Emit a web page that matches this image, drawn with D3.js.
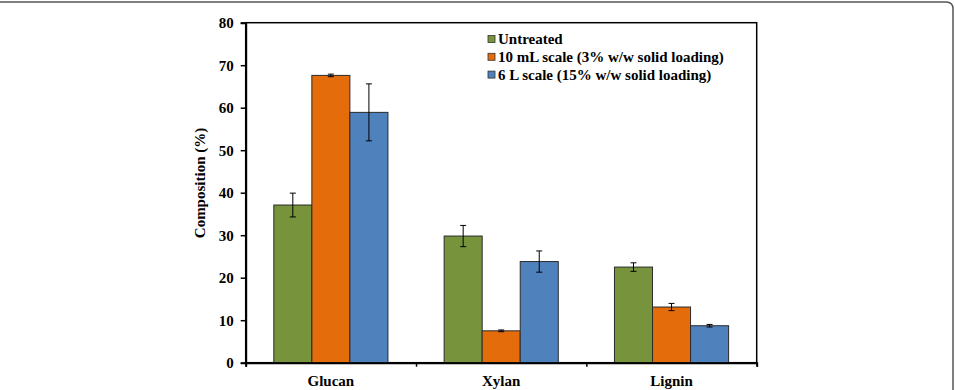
<!DOCTYPE html>
<html><head><meta charset="utf-8">
<script src="https://cdn.jsdelivr.net/npm/d3@7"></script>
<style>body{margin:0;background:#fff}svg{display:block}</style>
</head><body>
<svg id="c" width="955" height="390"></svg>
<script>
const categories = ["Glucan", "Xylan", "Lignin"];
const seriesNames = ["Untreated", "10 mL scale (3% w/w solid loading)", "6 L scale (15% w/w solid loading)"];
const untreated = [37.1, 29.8, 22.5];
const mL10 = [67.6, 7.5, 13.1];
const L6 = [58.9, 23.8, 8.7];
const untreatedErr = [2.8, 2.5, 1.0];
const mL10Err = [0.3, 0.2, 0.85];
const L6Err = [6.7, 2.5, 0.3];
const colors = ["#77933C", "#E46C0A", "#4F81BD"];
const yTicks = [0, 10, 20, 30, 40, 50, 60, 70, 80];

(function () {
const series = [untreated, mL10, L6];
const errs = [untreatedErr, mL10Err, L6Err];

const svg = d3.select("#c");
const font = "'Liberation Serif','Times New Roman',serif";

// frame
svg.append("path")
  .attr("d", "M-5,2 L946,2 Q953,2 953,9 L953,400")
  .attr("fill", "none").attr("stroke", "#555").attr("stroke-width", 1.5);

const pl = 245.7, pr = 756.7, pt = 22.7, pb = 362.7;
const x = d3.scaleBand().domain(categories).range([pl, pr]).paddingInner(0.33).paddingOuter(0.165);
const xs = d3.scaleBand().domain(d3.range(3)).range([0, x.bandwidth()]);
const y = d3.scaleLinear().domain([0, 80]).range([pb, pt]);

// plot border
svg.append("rect").attr("x", pl).attr("y", pt).attr("width", pr - pl).attr("height", pb - pt)
  .attr("fill", "none").attr("stroke", "#000").attr("stroke-width", 1.5);

// bars
categories.forEach((c, i) => {
  series.forEach((s, k) => {
    const bx = x(c) + xs(k);
    svg.append("rect").attr("x", bx).attr("y", y(s[i])).attr("width", xs.bandwidth()).attr("height", y(0) - y(s[i]))
      .attr("fill", colors[k]).attr("stroke", "#2b2b2b").attr("stroke-width", 1);
    const cx = bx + xs.bandwidth() / 2;
    const hi = y(s[i] + errs[k][i]), lo = y(s[i] - errs[k][i]);
    const g = svg.append("g").attr("stroke", "#000").attr("stroke-width", 1);
    g.append("line").attr("x1", cx).attr("x2", cx).attr("y1", hi).attr("y2", lo);
    g.append("line").attr("x1", cx - 3).attr("x2", cx + 3).attr("y1", hi).attr("y2", hi);
    g.append("line").attr("x1", cx - 3).attr("x2", cx + 3).attr("y1", lo).attr("y2", lo);
  });
});

// y axis
const yAxis = svg.append("g").attr("transform", `translate(${pl},0)`)
  .call(d3.axisLeft(y).tickValues(yTicks).tickSize(5).tickPadding(7));
yAxis.select(".domain").attr("stroke-width", 2);
yAxis.selectAll("line").attr("stroke-width", 1.5);
yAxis.selectAll("text").attr("font-family", font).attr("font-weight", "bold").attr("font-size", 15).attr("fill", "#000");

// x axis
const xAxis = svg.append("g").attr("transform", `translate(0,${pb})`)
  .call(d3.axisBottom(d3.scaleLinear().domain([0, 3]).range([pl, pr])).tickValues([0, 1, 2, 3]).tickSize(4).tickFormat(""));
xAxis.select(".domain").attr("stroke-width", 2);
xAxis.selectAll("line").attr("stroke-width", 1.5);
categories.forEach(c => {
  svg.append("text").attr("x", x(c) + x.bandwidth() / 2).attr("y", 386).attr("text-anchor", "middle")
    .attr("font-family", font).attr("font-weight", "bold").attr("font-size", 15).text(c);
});

// y title
svg.append("text").attr("transform", `translate(205,183) rotate(-90)`)
  .attr("text-anchor", "middle").attr("font-family", font).attr("font-weight", "bold").attr("font-size", 15)
  .text("Composition (%)");

// legend
seriesNames.forEach((n, k) => {
  const ly = 39 + k * 17.8;
  svg.append("rect").attr("x", 488).attr("y", ly - 3.5).attr("width", 7).attr("height", 7)
    .attr("fill", colors[k]).attr("stroke", "#333").attr("stroke-width", 0.8);
  svg.append("text").attr("x", 498).attr("y", ly + 5).attr("font-family", font).attr("font-weight", "bold")
    .attr("font-size", 15).text(n);
});
})();
</script>
</body></html>
